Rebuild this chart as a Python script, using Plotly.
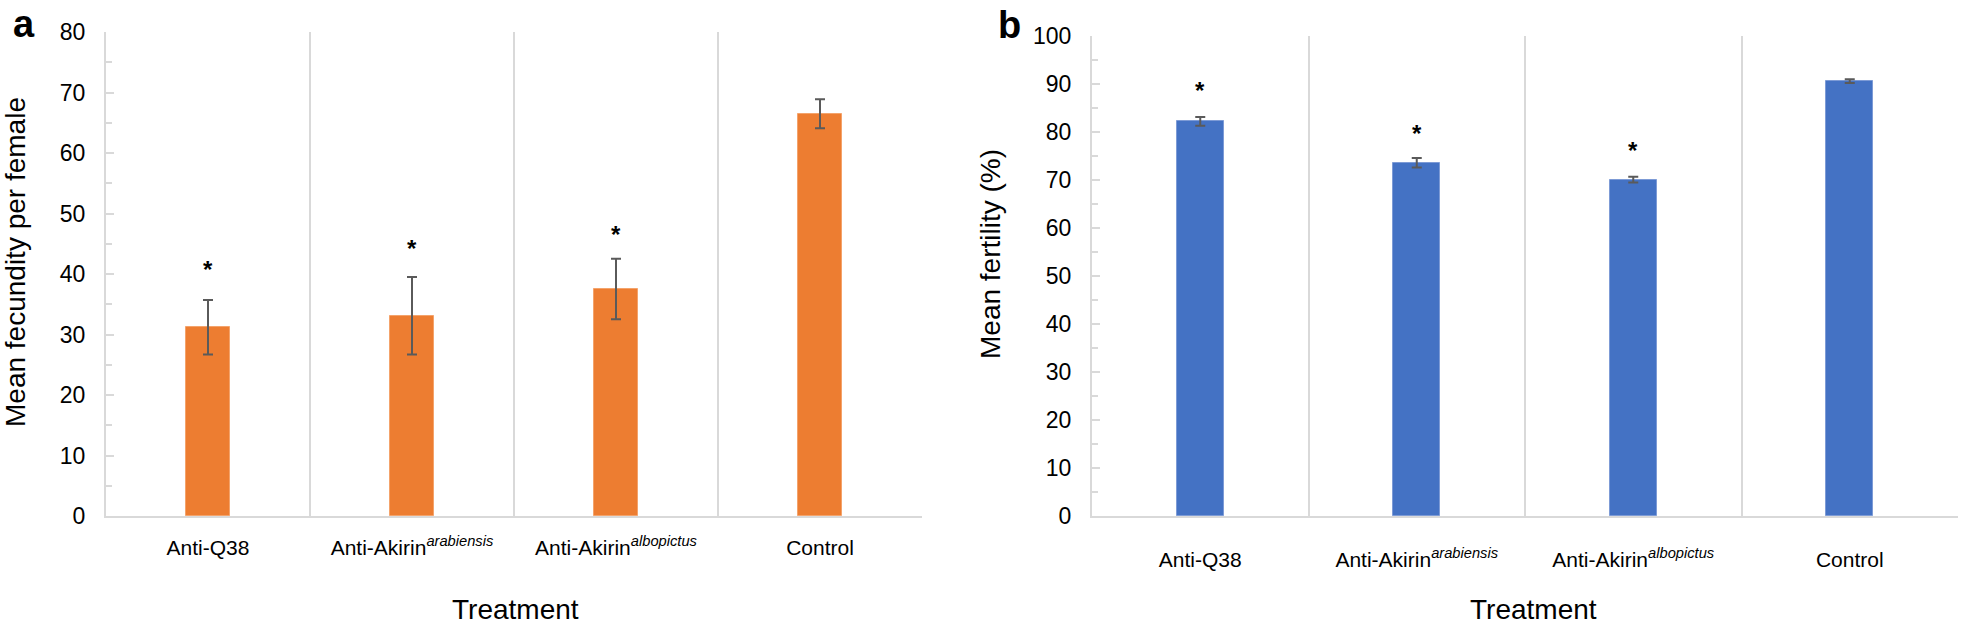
import plotly.graph_objects as go

W, H = 1961, 624

# ─── DATOS ───
tratamientos = [
    "Anti-Q38",
    "Anti-Akirin<sup><i>arabiensis</i></sup>",
    "Anti-Akirin<sup><i>albopictus</i></sup>",
    "Control",
]
fecundidad = [31.2, 33.1, 37.5, 66.5]
fecundidad_err = [4.5, 6.4, 5.0, 2.4]
fecundidad_star = [41.6, 45.1, 47.3, None]

fertilidad = [82.2, 73.6, 70.1, 90.6]
fertilidad_err = [0.9, 1.0, 0.6, 0.4]
fertilidad_star = [89.6, 80.8, 77.2, None]

NARANJA = "#ED7D31"
AZUL = "#4472C4"
GRIS = "#D9D9D9"
FONT = "Arial, Liberation Sans, sans-serif"


def px_x(p):
    return p / W


def px_y(p):
    return 1 - p / H


xpos = list(range(len(tratamientos)))

fig = go.Figure()

fig.add_trace(go.Bar(
    x=xpos, y=fecundidad, width=0.22, xaxis="x", yaxis="y",
    marker=dict(color=NARANJA, line=dict(color="#F4A36B", width=1)),
    error_y=dict(type="data", array=fecundidad_err, color="#5A5A5A", thickness=2, width=5),
))
fig.add_trace(go.Bar(
    x=xpos, y=fertilidad, width=0.215, xaxis="x2", yaxis="y2",
    marker=dict(color=AZUL, line=dict(color="#7D9BD6", width=1)),
    error_y=dict(type="data", array=fertilidad_err, color="#5A5A5A", thickness=2, width=5),
))

# asteriscos
for xs, ys, xr, yr in [(xpos, fecundidad_star, "x", "y"), (xpos, fertilidad_star, "x2", "y2")]:
    for xv, yv in zip(xs, ys):
        if yv is None:
            continue
        fig.add_annotation(x=xv, y=yv, xref=xr, yref=yr, text="<b>*</b>", showarrow=False,
                           yanchor="middle", yshift=-5,
                           font=dict(size=24, color="black", family=FONT))

xcomun = dict(
    range=[-0.5, 3.5], tickmode="array", tickvals=xpos, ticktext=tratamientos,
    showgrid=False, zeroline=False, showline=True, linecolor=GRIS, linewidth=2,
    ticks="", tickfont=dict(size=21, color="black", family=FONT),
    minor=dict(tickmode="array", tickvals=[0.5, 1.5, 2.5, 3.5], showgrid=True,
               gridcolor=GRIS, gridwidth=2, ticks=""),
    automargin=False, fixedrange=True,
)
ycomun = dict(
    showgrid=False, zeroline=False, showline=True, linecolor=GRIS, linewidth=2,
    ticks="inside", ticklen=8, tickwidth=1.5, tickcolor=GRIS,
    minor=dict(dtick=5, ticks="inside", ticklen=6, tickwidth=1.5, tickcolor=GRIS),
    tickfont=dict(size=23, color="black", family=FONT), ticklabelstandoff=14,
    automargin=False, fixedrange=True,
)

fig.update_layout(
    width=W, height=H,
    margin=dict(l=0, r=0, t=0, b=0, autoexpand=False),
    plot_bgcolor="white", paper_bgcolor="white",
    showlegend=False, bargap=0,
    xaxis=dict(domain=[px_x(106), px_x(922)], anchor="y", ticklabelstandoff=12, **xcomun),
    yaxis=dict(domain=[px_y(516), px_y(32)], anchor="x", range=[0, 80], dtick=10, **ycomun),
    xaxis2=dict(domain=[px_x(1092), px_x(1958)], anchor="y2", ticklabelstandoff=24, **xcomun),
    yaxis2=dict(domain=[px_y(516), px_y(36)], anchor="x2", range=[0, 100], dtick=10, **ycomun),
)

# titulos de ejes y letras de panel
textos = [
    ("Mean fecundity per female", 15, 262, -90, 28),
    ("Mean fertility (%)", 990, 254, -90, 28),
    ("Treatment", 515, 609, 0, 28),
    ("Treatment", 1533, 609, 0, 28),
]
for txt, x, y, ang, size in textos:
    fig.add_annotation(x=px_x(x), y=px_y(y), xref="paper", yref="paper", text=txt,
                       showarrow=False, textangle=ang, xanchor="center", yanchor="middle",
                       font=dict(size=size, color="black", family=FONT))

for letra, x, y in [("a", 11, 24), ("b", 996, 25)]:
    fig.add_annotation(x=px_x(x), y=px_y(y), xref="paper", yref="paper", text=f"<b>{letra}</b>",
                       showarrow=False, xanchor="left", yanchor="middle",
                       font=dict(size=38, color="black", family=FONT))

# sin margen del body para que la figura llene la ventana
fig.write_html("out.html", config={"displayModeBar": False},
               post_script="document.body.style.margin='0';")
